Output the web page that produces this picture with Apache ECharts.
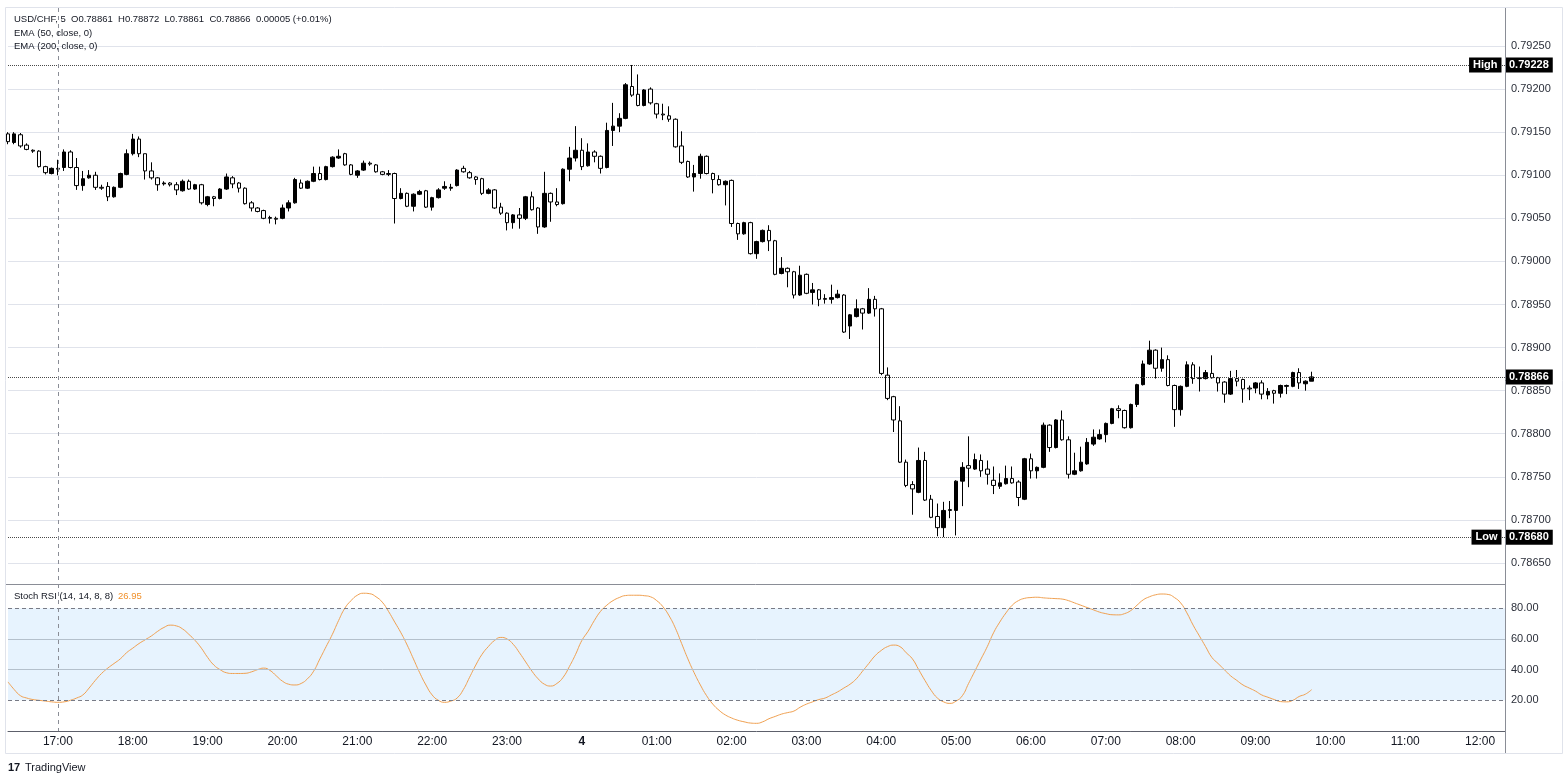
<!DOCTYPE html>
<html>
<head>
<meta charset="utf-8">
<script src="https://cdn.jsdelivr.net/npm/echarts@6/dist/echarts.min.js"></script>
<style>
html,body{margin:0;padding:0;background:#fff}
#chart{width:1568px;height:782px}
</style>
</head>
<body>
<div id="chart"></div>
<script>
// 5 minute candles, first slot 16:20, axis runs on to 12:20
var startHour = 16, startMin = 20, slotCount = 241;

// [open, close, low, high]  (black = up, white = down)
var candles = [
  [0.79148,0.79139,0.79136,0.79150],[0.79138,0.79148,0.79136,0.79150],[0.79147,0.79134,0.79132,0.79149],[0.79135,0.79130,0.79129,0.79137],
  [0.79129,0.79128,0.79126,0.79130],[0.79128,0.79110,0.79109,0.79129],[0.79110,0.79103,0.79101,0.79111],[0.79102,0.79108,0.79101,0.79109],
  [0.79108,0.79107,0.79100,0.79118],[0.79109,0.79127,0.79105,0.79130],[0.79127,0.79109,0.79108,0.79129],[0.79109,0.79088,0.79083,0.79120],
  [0.79088,0.79096,0.79082,0.79105],[0.79097,0.79100,0.79096,0.79106],[0.79100,0.79086,0.79083,0.79104],[0.79086,0.79085,0.79083,0.79089],
  [0.79087,0.79075,0.79070,0.79092],[0.79075,0.79086,0.79074,0.79087],[0.79086,0.79102,0.79085,0.79103],[0.79101,0.79125,0.79100,0.79130],
  [0.79125,0.79142,0.79123,0.79148],[0.79142,0.79125,0.79121,0.79145],[0.79125,0.79105,0.79095,0.79125],[0.79105,0.79097,0.79095,0.79115],
  [0.79097,0.79089,0.79082,0.79098],[0.79090,0.79091,0.79088,0.79093],[0.79091,0.79089,0.79087,0.79092],[0.79089,0.79083,0.79077,0.79092],
  [0.79082,0.79093,0.79081,0.79095],[0.79093,0.79084,0.79083,0.79095],[0.79084,0.79089,0.79083,0.79090],[0.79089,0.79068,0.79066,0.79090],
  [0.79066,0.79075,0.79064,0.79076],[0.79075,0.79073,0.79064,0.79076],[0.79073,0.79084,0.79072,0.79085],[0.79084,0.79098,0.79083,0.79102],
  [0.79097,0.79090,0.79085,0.79099],[0.79091,0.79085,0.79080,0.79092],[0.79085,0.79067,0.79066,0.79086],[0.79068,0.79062,0.79058,0.79070],
  [0.79062,0.79058,0.79057,0.79063],[0.79059,0.79050,0.79049,0.79060],[0.79051,0.79050,0.79044,0.79053],[0.79050,0.79049,0.79043,0.79052],
  [0.79050,0.79062,0.79049,0.79066],[0.79062,0.79068,0.79058,0.79071],[0.79068,0.79095,0.79067,0.79097],[0.79091,0.79085,0.79084,0.79095],
  [0.79085,0.79093,0.79084,0.79094],[0.79093,0.79102,0.79092,0.79110],[0.79102,0.79095,0.79094,0.79110],[0.79095,0.79110,0.79094,0.79111],
  [0.79110,0.79121,0.79109,0.79122],[0.79120,0.79122,0.79119,0.79130],[0.79125,0.79112,0.79111,0.79126],[0.79112,0.79101,0.79100,0.79113],
  [0.79100,0.79105,0.79097,0.79106],[0.79106,0.79114,0.79105,0.79117],[0.79114,0.79113,0.79111,0.79116],[0.79112,0.79104,0.79103,0.79113],
  [0.79104,0.79101,0.79100,0.79105],[0.79102,0.79101,0.79099,0.79106],[0.79102,0.79073,0.79044,0.79103],[0.79073,0.79079,0.79072,0.79085],
  [0.79079,0.79064,0.79063,0.79080],[0.79064,0.79078,0.79058,0.79079],[0.79078,0.79081,0.79077,0.79083],[0.79082,0.79063,0.79062,0.79083],
  [0.79063,0.79074,0.79059,0.79075],[0.79074,0.79083,0.79073,0.79085],[0.79085,0.79087,0.79083,0.79093],[0.79085,0.79086,0.79082,0.79090],
  [0.79088,0.79106,0.79087,0.79107],[0.79108,0.79104,0.79103,0.79111],[0.79103,0.79097,0.79096,0.79105],[0.79098,0.79095,0.79089,0.79099],
  [0.79096,0.79079,0.79077,0.79097],[0.79079,0.79083,0.79078,0.79085],[0.79083,0.79062,0.79061,0.79084],[0.79063,0.79056,0.79054,0.79068],
  [0.79056,0.79045,0.79036,0.79057],[0.79045,0.79054,0.79038,0.79055],[0.79054,0.79050,0.79038,0.79062],[0.79050,0.79075,0.79048,0.79076],
  [0.79075,0.79060,0.79059,0.79081],[0.79062,0.79040,0.79032,0.79063],[0.79040,0.79079,0.79039,0.79104],[0.79079,0.79069,0.79046,0.79080],
  [0.79069,0.79066,0.79064,0.79085],[0.79067,0.79107,0.79066,0.79108],[0.79107,0.79120,0.79093,0.79133],[0.79120,0.79129,0.79116,0.79157],
  [0.79129,0.79110,0.79106,0.79143],[0.79111,0.79127,0.79110,0.79137],[0.79127,0.79122,0.79115,0.79129],[0.79122,0.79108,0.79102,0.79123],
  [0.79109,0.79152,0.79108,0.79161],[0.79152,0.79157,0.79134,0.79184],[0.79157,0.79166,0.79150,0.79172],[0.79166,0.79205,0.79165,0.79207],
  [0.79203,0.79193,0.79191,0.79228],[0.79194,0.79181,0.79180,0.79217],[0.79181,0.79199,0.79180,0.79200],[0.79200,0.79184,0.79182,0.79202],
  [0.79183,0.79171,0.79166,0.79184],[0.79171,0.79170,0.79164,0.79183],[0.79169,0.79165,0.79162,0.79180],[0.79165,0.79133,0.79132,0.79166],
  [0.79134,0.79115,0.79113,0.79151],[0.79116,0.79098,0.79097,0.79117],[0.79098,0.79102,0.79081,0.79112],[0.79102,0.79122,0.79096,0.79125],
  [0.79122,0.79102,0.79101,0.79123],[0.79102,0.79095,0.79079,0.79103],[0.79095,0.79089,0.79088,0.79100],[0.79089,0.79093,0.79065,0.79094],
  [0.79094,0.79044,0.79040,0.79095],[0.79044,0.79032,0.79025,0.79045],[0.79032,0.79045,0.79031,0.79046],[0.79045,0.79009,0.79008,0.79046],
  [0.79009,0.79023,0.79003,0.79024],[0.79023,0.79036,0.79022,0.79037],[0.79036,0.79024,0.79012,0.79042],[0.79024,0.78985,0.78984,0.79025],
  [0.78986,0.78992,0.78985,0.79005],[0.78992,0.78988,0.78970,0.78993],[0.78988,0.78961,0.78957,0.78989],[0.78961,0.78984,0.78960,0.78995],
  [0.78985,0.78963,0.78962,0.78986],[0.78964,0.78967,0.78950,0.78975],[0.78967,0.78956,0.78948,0.78968],[0.78957,0.78956,0.78951,0.78962],
  [0.78956,0.78958,0.78951,0.78973],[0.78958,0.78962,0.78957,0.78967],[0.78961,0.78918,0.78917,0.78962],[0.78925,0.78938,0.78910,0.78939],
  [0.78936,0.78945,0.78935,0.78956],[0.78945,0.78940,0.78921,0.78946],[0.78940,0.78956,0.78939,0.78969],[0.78956,0.78945,0.78936,0.78960],
  [0.78945,0.78870,0.78868,0.78946],[0.78868,0.78841,0.78839,0.78877],[0.78843,0.78816,0.78802,0.78844],[0.78815,0.78767,0.78766,0.78832],
  [0.78767,0.78740,0.78738,0.78770],[0.78741,0.78736,0.78706,0.78745],[0.78732,0.78769,0.78731,0.78784],[0.78769,0.78723,0.78722,0.78779],
  [0.78724,0.78703,0.78702,0.78729],[0.78704,0.78691,0.78681,0.78719],[0.78691,0.78711,0.78680,0.78721],[0.78712,0.78711,0.78702,0.78722],
  [0.78711,0.78745,0.78682,0.78746],[0.78745,0.78761,0.78716,0.78767],[0.78763,0.78760,0.78738,0.78797],[0.78759,0.78770,0.78758,0.78777],
  [0.78769,0.78757,0.78750,0.78776],[0.78759,0.78753,0.78741,0.78769],[0.78746,0.78740,0.78730,0.78762],[0.78739,0.78743,0.78736,0.78754],
  [0.78742,0.78748,0.78741,0.78763],[0.78748,0.78743,0.78742,0.78762],[0.78744,0.78726,0.78716,0.78746],[0.78724,0.78771,0.78723,0.78772],
  [0.78771,0.78757,0.78748,0.78777],[0.78757,0.78761,0.78748,0.78762],[0.78761,0.78810,0.78760,0.78813],[0.78810,0.78784,0.78779,0.78811],
  [0.78784,0.78816,0.78783,0.78817],[0.78816,0.78793,0.78792,0.78827],[0.78793,0.78753,0.78748,0.78797],[0.78753,0.78757,0.78752,0.78778],
  [0.78757,0.78767,0.78756,0.78785],[0.78765,0.78790,0.78764,0.78795],[0.78788,0.78796,0.78786,0.78805],[0.78794,0.78799,0.78793,0.78805],
  [0.78799,0.78812,0.78790,0.78813],[0.78812,0.78829,0.78811,0.78830],[0.78829,0.78827,0.78818,0.78833],[0.78827,0.78807,0.78806,0.78828],
  [0.78807,0.78834,0.78806,0.78835],[0.78834,0.78857,0.78831,0.78858],[0.78857,0.78881,0.78856,0.78885],[0.78881,0.78897,0.78880,0.78908],
  [0.78897,0.78876,0.78864,0.78898],[0.78876,0.78886,0.78872,0.78900],[0.78886,0.78856,0.78855,0.78891],[0.78856,0.78828,0.78808,0.78857],
  [0.78828,0.78855,0.78821,0.78856],[0.78855,0.78880,0.78854,0.78884],[0.78880,0.78864,0.78858,0.78883],[0.78865,0.78864,0.78849,0.78878],
  [0.78864,0.78871,0.78863,0.78874],[0.78870,0.78865,0.78864,0.78891],[0.78865,0.78859,0.78849,0.78866],[0.78860,0.78846,0.78836,0.78861],
  [0.78846,0.78864,0.78845,0.78873],[0.78864,0.78861,0.78855,0.78874],[0.78863,0.78852,0.78836,0.78864],[0.78853,0.78852,0.78839,0.78856],
  [0.78853,0.78859,0.78847,0.78860],[0.78859,0.78846,0.78840,0.78862],[0.78845,0.78849,0.78840,0.78853],[0.78850,0.78847,0.78835,0.78851],
  [0.78847,0.78856,0.78842,0.78857],[0.78855,0.78856,0.78846,0.78857],[0.78855,0.78871,0.78854,0.78872],[0.78871,0.78859,0.78852,0.78876],
  [0.78858,0.78861,0.78850,0.78862],[0.78861,0.78866,0.78861,0.78872]
];

var stochRsi = [
  32,27,23,21.5,20.5,20,19.5,19,18.7,19,20,21.5,23.5,28,33,37.5,41,44,47,51,
  54,57,59.5,62,65,67.5,69,68.5,66.5,63,59,54,48,43,40,38,37.5,37.5,37.6,38.5,
  40,41,39.5,36,32.5,30.5,30,31,34,39,47,55,63,72,80,85,88.5,89.8,89.5,87.5,
  84,78,71,64,56,47,38,30,23.5,20,18.7,19.5,21.5,27,35,43,50,55,59,61,
  60,56.5,51,45,39,34,30.5,29.3,31,35,42,50,59,65,72,78,82,85,87,88.3,
  88.5,88.5,88.2,87.5,85,81,75,67,57,47,38,30,23,17.5,13.5,10.5,8.5,7,6,5.2,
  5,6,8,9.5,11,12,13,15.5,17.5,19,20.5,21.5,23.5,25.5,28,30.5,34,39,44,49,
  52.5,55,56,55,51,47,40,33,26.5,21.5,19,18,19.5,23,31,39,47,55,64,71,
  77,82,85,86.5,87,87.2,86.8,86.5,86.3,86,85,83.5,82,80.5,79,77.5,76.5,75.8,75.7,76.5,
  78.5,82,85.5,87.5,88.8,89.3,89,87,83.5,77,69,62,55,48,44,40,36,33,30,28,
  26,23.5,22,20.5,19.2,19,20,22.5,24,26.95
];

var priceMarks = [0.79228, 0.78680, 0.78866];   // high, low, last
var priceTags = ['High', 'Low'];
var headerText = 'USD/CHF, 5  O0.78861  H0.78872  L0.78861  C0.78866  0.00005 (+0.01%)';
var emaLabels = ['EMA (50, close, 0)', 'EMA (200, close, 0)'];
var rsiTitle = 'Stoch RSI (14, 14, 8, 8)';
var rsiLast = '26.95';

var times = [];
for (var i = 0; i < slotCount; i++) {
  var m = startHour * 60 + startMin + i * 5;
  var h = Math.floor(m / 60) % 24, mm = m % 60;
  times.push((h < 10 ? '0' : '') + h + ':' + (mm < 10 ? '0' : '') + mm);
}

var FONT = '"Liberation Sans", Arial, sans-serif';
var txt = '#131722';

var chart = echarts.init(document.getElementById('chart'), null, {renderer: 'canvas'});

var option = {
  animation: false,
  backgroundColor: '#ffffff',
  textStyle: {fontFamily: FONT},
  grid: [
    {left: 8, right: 63, top: 46, height: 517},
    {left: 8, right: 63, top: 577.6, height: 153.4}
  ],
  xAxis: [
    {
      type: 'category', gridIndex: 0, data: times, boundaryGap: false,
      axisLine: {show: false}, axisTick: {show: false}, axisLabel: {show: false}, splitLine: {show: false}
    },
    {
      type: 'category', gridIndex: 1, data: times, boundaryGap: false,
      axisLine: {show: true, lineStyle: {color: '#5d606b', width: 1}},
      axisTick: {show: false},
      splitLine: {show: false},
      axisLabel: {
        margin: 5, fontSize: 12, color: txt, fontFamily: FONT,
        interval: function (idx, val) { return val.slice(3) === '00'; },
        formatter: function (val) { return val === '00:00' ? '{d|4}' : val; },
        rich: {d: {fontWeight: 'bold', fontSize: 12, color: txt, fontFamily: FONT}}
      }
    }
  ],
  yAxis: [
    {
      type: 'value', gridIndex: 0, position: 'right', scale: true,
      min: 0.7865, max: 0.7925, interval: 0.0005,
      axisLine: {show: false}, axisTick: {show: false},
      axisLabel: {margin: 6, fontSize: 11, color: '#2a2e39', fontFamily: FONT,
        formatter: function (v) { return v.toFixed(5); }},
      splitLine: {show: true, lineStyle: {color: '#e0e3eb', width: 1}}
    },
    {
      type: 'value', gridIndex: 1, position: 'right',
      min: 0, max: 100, interval: 20,
      axisLine: {show: false}, axisTick: {show: false},
      axisLabel: {margin: 6, fontSize: 11, color: '#2a2e39', fontFamily: FONT,
        formatter: function (v) { return (v > 0 && v < 100) ? v.toFixed(2) : ''; }},
      splitLine: {show: false}
    }
  ],
  series: [
    {
      name: 'USD/CHF', type: 'candlestick', xAxisIndex: 0, yAxisIndex: 0,
      data: candles, barWidth: 4,
      itemStyle: {color: '#000000', color0: '#ffffff', borderColor: '#000000', borderColor0: '#000000', borderWidth: 1},
      markPoint: {
        silent: true, symbol: 'rect', symbolSize: 1, animation: false,
        itemStyle: {color: 'rgba(0,0,0,0)'},
        label: {
          show: true, position: 'left', distance: 3, formatter: '{b}',
          color: '#ffffff', backgroundColor: '#000000', padding: [2, 4, 2, 4],
          fontSize: 11, fontWeight: 'bold', fontFamily: FONT
        },
        data: [
          {name: priceTags[0], coord: [times[slotCount - 1], priceMarks[0]]},
          {name: priceTags[1], coord: [times[slotCount - 1], priceMarks[1]]}
        ]
      }
    },
    {
      // carrier for the high / low / last price lines
      name: 'levels', type: 'line', xAxisIndex: 0, yAxisIndex: 0, data: [],
      markLine: {
        silent: true, symbol: ['none', 'none'], animation: false, precision: 5,
        lineStyle: {type: 'dotted', color: '#4a4a4a', width: 1},
        label: {
          show: true, position: 'end', distance: 0,
          color: '#ffffff', backgroundColor: '#000000', padding: [2, 4, 2, 4],
          fontSize: 11, fontWeight: 'bold', fontFamily: FONT,
          formatter: function (p) { return Number(p.value).toFixed(5); }
        },
        data: priceMarks.map(function (v) { return {yAxis: v}; })
      }
    },
    {
      name: 'Stoch RSI', type: 'line', xAxisIndex: 1, yAxisIndex: 1,
      data: stochRsi, smooth: true, showSymbol: false,
      lineStyle: {color: '#f0a050', width: 1},
      markArea: {
        silent: true,
        itemStyle: {color: 'rgba(33,150,243,0.11)'},
        data: [[{yAxis: 20}, {yAxis: 80}]]
      },
      markLine: {
        silent: true, symbol: ['none', 'none'], animation: false,
        label: {show: false},
        data: [
          {yAxis: 80, lineStyle: {type: [4, 3], color: '#787b86', width: 1}},
          {yAxis: 60, lineStyle: {type: 'solid', color: '#b4c0cc', width: 1}},
          {yAxis: 40, lineStyle: {type: 'solid', color: '#b4c0cc', width: 1}},
          {yAxis: 20, lineStyle: {type: [4, 3], color: '#787b86', width: 1}}
        ]
      }
    }
  ]
};

chart.setOption(option);

// crosshair at 17:00, placed through the category scale
var crossX = Math.round(chart.convertToPixel({xAxisIndex: 0}, '17:00')) + 0.5;

chart.setOption({
  graphic: {
    elements: [
      {id: 'frame', type: 'rect', silent: true, z: 0,
        shape: {x: 5.5, y: 7.5, width: 1557, height: 746},
        style: {fill: 'none', stroke: '#e0e3eb', lineWidth: 1}},
      {id: 'paneSep', type: 'line', silent: true, z: 50,
        shape: {x1: 6, y1: 584.5, x2: 1505, y2: 584.5},
        style: {stroke: '#8a8d96', lineWidth: 1}},
      {id: 'rightAxis', type: 'line', silent: true, z: 50,
        shape: {x1: 1505.5, y1: 8, x2: 1505.5, y2: 753},
        style: {stroke: '#8a8d96', lineWidth: 1}},
      {id: 'cross', type: 'line', silent: true, z: 40,
        shape: {x1: crossX, y1: 8, x2: crossX, y2: 731},
        style: {stroke: '#8a8d96', lineWidth: 1, lineDash: [4, 4]}},
      {id: 'head', type: 'text', silent: true, z: 60, x: 14, y: 19,
        style: {text: headerText, fill: txt, font: '9.5px ' + FONT, verticalAlign: 'middle', align: 'left'}},
      {id: 'ema1', type: 'text', silent: true, z: 60, x: 14, y: 33,
        style: {text: emaLabels[0], fill: txt, font: '9.5px ' + FONT, verticalAlign: 'middle', align: 'left'}},
      {id: 'ema2', type: 'text', silent: true, z: 60, x: 14, y: 46,
        style: {text: emaLabels[1], fill: txt, font: '9.5px ' + FONT, verticalAlign: 'middle', align: 'left'}},
      {id: 'rsiTitle', type: 'text', silent: true, z: 60, x: 14, y: 596,
        style: {text: rsiTitle, fill: txt, font: '9.5px ' + FONT, verticalAlign: 'middle', align: 'left'}},
      {id: 'rsiVal', type: 'text', silent: true, z: 60, x: 118, y: 596,
        style: {text: rsiLast, fill: '#f0902a', font: '9.5px ' + FONT, verticalAlign: 'middle', align: 'left'}},
      {id: 'logo', type: 'text', silent: true, z: 60, x: 8, y: 768,
        style: {text: '17', fill: '#131722', font: 'bold 11px ' + FONT, verticalAlign: 'middle', align: 'left'}},
      {id: 'brand', type: 'text', silent: true, z: 60, x: 25, y: 768,
        style: {text: 'TradingView', fill: '#131722', font: '11px ' + FONT, verticalAlign: 'middle', align: 'left'}}
    ]
  }
});

window.addEventListener('resize', function () {
  chart.resize();
});
</script>
</body>
</html>
